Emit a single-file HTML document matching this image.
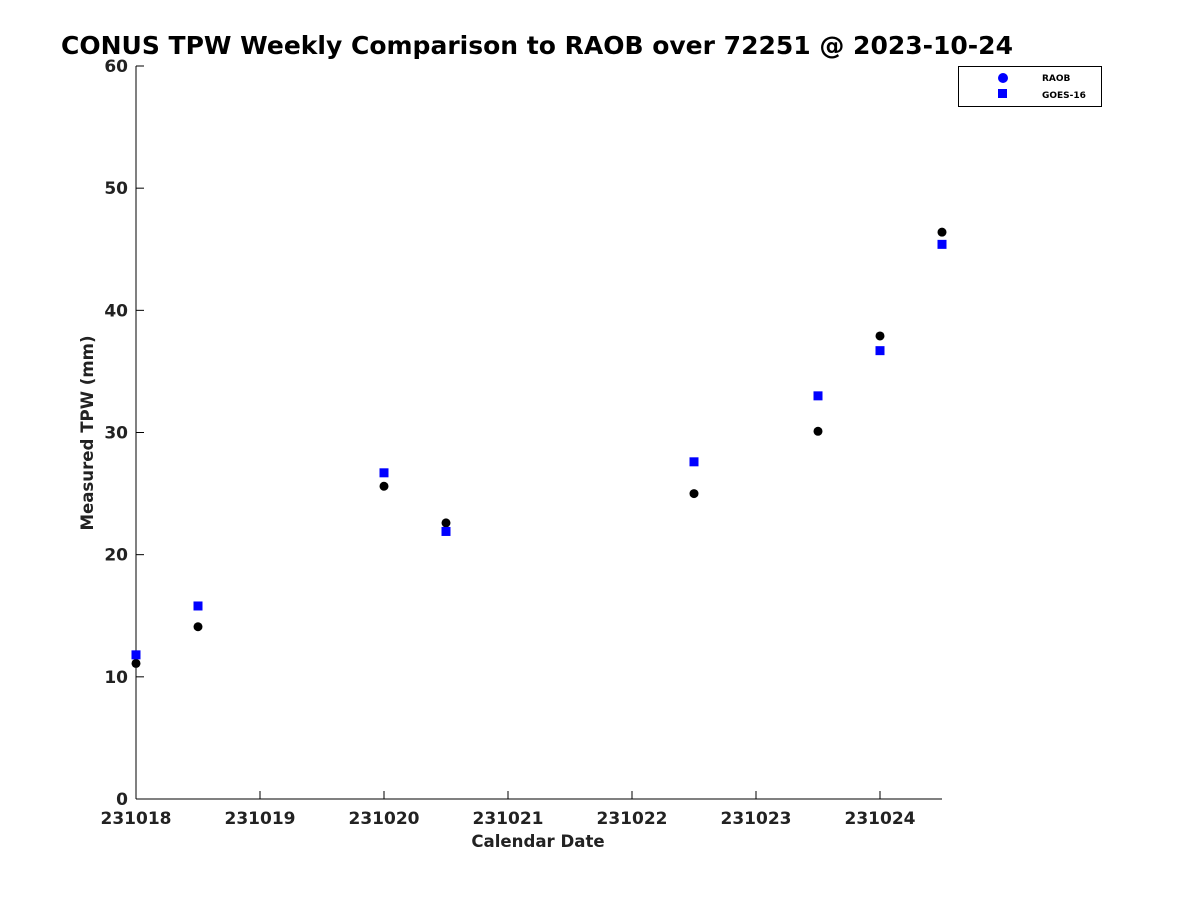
<!DOCTYPE html>
<html><head><meta charset="utf-8"><style>body{margin:0;background:#fff}svg{display:block;font-family:"DejaVu Sans","Liberation Sans",sans-serif}</style></head>
<body>
<svg id="chart" width="1200" height="900">
<text x="61" y="54" font-size="25" font-weight="bold" fill="#000">CONUS TPW Weekly Comparison to RAOB over 72251 @ 2023-10-24</text>
<g id="axes"></g>
<g id="marks"></g>
<g>
<rect x="958.5" y="66.5" width="143" height="40" fill="#fff" stroke="#000" stroke-width="1"/>
<circle cx="1003" cy="78" r="5" fill="#0000ff"/>
<text x="1042" y="81" font-size="9" font-weight="bold" fill="#000">RAOB</text>
<rect x="998" y="89" width="9" height="9" fill="#0000ff"/>
<text x="1042" y="98" font-size="9" font-weight="bold" fill="#000">GOES-16</text>
</g>
</svg>
<script>
const xDays = [0, 0.5, 2, 2.5, 4.5, 5.5, 6, 6.5];
const raob = [11.1, 14.1, 25.6, 22.6, 25.0, 30.1, 37.9, 46.4];
const goes = [11.8, 15.8, 26.7, 21.9, 27.6, 33.0, 36.7, 45.4];
const xTickLabels = ["231018","231019","231020","231021","231022","231023","231024"];
const yTicks = [0,10,20,30,40,50,60];

const NS="http://www.w3.org/2000/svg";
const L=136,R=942,T=66,B=799;
const xs=d=>L+d*124;
const ys=v=>B-(v/60)*(B-T);
function mk(tag,attrs,parent){const e=document.createElementNS(NS,tag);for(const k in attrs)e.setAttribute(k,attrs[k]);parent.appendChild(e);return e;}
const ax=document.getElementById('axes'), mg=document.getElementById('marks');
let e=mk('line',{x1:L,y1:T,x2:L,y2:B,stroke:'#000','stroke-width':1},ax);


e=mk('line',{x1:L,y1:B,x2:R,y2:B,stroke:'#000','stroke-width':1},ax);


yTicks.forEach(v=>{
 const y=ys(v);
 mk('line',{x1:L,y1:y,x2:L+8,y2:y,stroke:'#000'},ax);
 const t=mk('text',{x:L-8,y:y+6,'text-anchor':'end','font-size':17,'font-weight':'bold',fill:'#222'},ax);
 t.textContent=v;
 
 
});
xTickLabels.forEach((lab,i)=>{
 const x=xs(i);
 mk('line',{x1:x,y1:B,x2:x,y2:B-8,stroke:'#000'},ax);
 const t=mk('text',{x:x,y:B+25,'text-anchor':'middle','font-size':17,'font-weight':'bold',fill:'#222'},ax);
 t.textContent=lab;
 
 
});
let t=mk('text',{x:538,y:847,'text-anchor':'middle','font-size':16.6,'font-weight':'bold',fill:'#222'},ax);
t.textContent='Calendar Date';


t=mk('text',{x:93,y:433,'text-anchor':'middle','font-size':16.6,'font-weight':'bold',fill:'#222',transform:'rotate(-90 93 433)'},ax);
t.textContent='Measured TPW (mm)';


xDays.forEach((d,i)=>{
 const c=mk('circle',{cx:xs(d),cy:ys(raob[i]),r:4.5,fill:'#000'},mg);
 
 
 const s=mk('rect',{x:xs(d)-4.5,y:ys(goes[i])-4.5,width:9,height:9,fill:'#0000ff'},mg);
 
 
});
</script>
</body></html>
